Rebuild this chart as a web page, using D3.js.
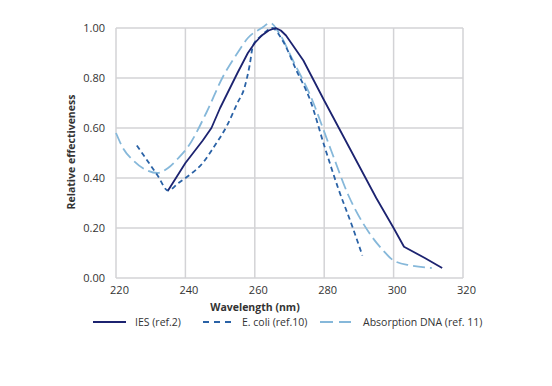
<!DOCTYPE html>
<html>
<head>
<meta charset="utf-8">
<script src="https://cdn.jsdelivr.net/npm/d3@7"></script>
<style>
  body { margin: 0; background: #fff; }
  text { font-family: "Open Sans", Lato, sans-serif; fill: #333; }
</style>
</head>
<body>
<div id="chart"></div>
<script>
var xTicks = [220, 240, 260, 280, 300, 320];
var yTicks = [0, 0.2, 0.4, 0.6, 0.8, 1.0];

// [wavelength nm, relative effectiveness]
var ies = [[235,0.35],[240,0.46],[245,0.55],[247.5,0.60],[250,0.68],[255,0.82],[258,0.90],
  [260,0.94],[262,0.97],[264,0.99],[266,1.00],[267.5,0.99],[269,0.97],[271,0.93],[274,0.87],
  [280,0.71],[285,0.58],[290,0.45],[295,0.32],[300,0.20],[303,0.125],[309,0.08],[314,0.04]];
var ecoli = [[226,0.53],[229,0.47],[232,0.41],[235,0.35],[238,0.38],[241,0.41],[245,0.46],
  [248,0.52],[252,0.61],[255,0.70],[257,0.76],[258.5,0.85],[259.5,0.93],[262,0.97],[265,1.00],
  [268,0.95],[272,0.83],[276,0.71],[280,0.53],[284,0.36],[288,0.21],[291,0.09]];
var dna = [[220,0.58],[222,0.52],[225,0.47],[229,0.43],[232,0.42],[235,0.44],[238,0.48],
  [241,0.53],[246,0.66],[251,0.81],[255,0.90],[258,0.96],[262,1.00],[264.5,1.02],[267,0.98],
  [271,0.87],[276,0.73],[282,0.51],[287,0.33],[293,0.18],[297,0.11],[300,0.07],[305,0.05],[311,0.04]];

var series = [
  {name: "IES (ref.2)", data: ies, colour: "#1c2370", dash: null, curve: d3.curveLinear},
  {name: "E. coli (ref.10)", data: ecoli, colour: "#2a62a6", dash: "5,3.5", curve: d3.curveMonotoneX},
  {name: "Absorption DNA (ref. 11)", data: dna, colour: "#86b8da", dash: "12,5", curve: d3.curveMonotoneX}
];

var w = 552, h = 386;
var svg = d3.select("#chart").append("svg")
  .attr("width", w)
  .attr("height", h);

var x = d3.scaleLinear().domain([220, 320]).range([116, 463]);
var y = d3.scaleLinear().domain([0, 1]).range([278, 28]);

// grid
svg.append("g")
  .selectAll("line")
  .data(xTicks)
  .enter().append("line")
    .attr("x1", function(d){ return x(d); })
    .attr("x2", function(d){ return x(d); })
    .attr("y1", y(0))
    .attr("y2", y(1))
    .style("stroke", "#d3d3d6")
    .style("stroke-width", 1.5);

svg.append("g")
  .selectAll("line")
  .data(yTicks)
  .enter().append("line")
    .attr("x1", x(220))
    .attr("x2", x(320))
    .attr("y1", function(d){ return y(d); })
    .attr("y2", function(d){ return y(d); })
    .style("stroke", "#d3d3d6")
    .style("stroke-width", 1.5);

// tick labels
var xAxis = svg.append("g")
  .attr("transform", "translate(3," + y(0) + ")")
  .call(d3.axisBottom(x).tickValues(xTicks).tickSize(0).tickPadding(8).tickFormat(d3.format("d")));
var yAxis = svg.append("g")
  .attr("transform", "translate(" + x(220) + ",0)")
  .call(d3.axisLeft(y).tickValues(yTicks).tickSize(0).tickPadding(11).tickFormat(d3.format(".2f")));
[xAxis, yAxis].forEach(function(a){
  a.select(".domain").remove();
  a.selectAll("text").style("font-size", "11px").style("fill", "#333");
});

// axis titles
svg.append("text")
  .attr("x", 255)
  .attr("y", 311)
  .attr("text-anchor", "middle")
  .style("font-size", "10.5px")
  .style("font-weight", "bold")
  .text("Wavelength (nm)");

svg.append("text")
  .attr("transform", "translate(75,152) rotate(-90)")
  .attr("text-anchor", "middle")
  .style("font-size", "10.5px")
  .style("font-weight", "bold")
  .text("Relative effectiveness");

// curves
series.slice().reverse().forEach(function(s){
  var line = d3.line()
    .x(function(d){ return x(d[0]); })
    .y(function(d){ return y(d[1]); })
    .curve(s.curve);
  svg.append("path")
    .datum(s.data)
    .attr("d", line)
    .style("fill", "none")
    .style("stroke", s.colour)
    .style("stroke-width", 1.8)
    .style("stroke-linejoin", "round")
    .style("stroke-dasharray", s.dash);
});

// legend
var legendX = [93, 203, 320];
var legend = svg.append("g")
  .selectAll("g")
  .data(series)
  .enter().append("g")
    .attr("transform", function(d, i){ return "translate(" + legendX[i] + ",322)"; });

legend.append("line")
  .attr("x1", 0)
  .attr("x2", function(d, i){ return i == 0 ? 33 : 31; })
  .style("stroke", function(d){ return d.colour; })
  .style("stroke-width", 1.8)
  .style("stroke-dasharray", function(d, i){ return i == 1 ? "6,5" : (i == 2 ? "13,6" : null); });

legend.append("text")
  .attr("x", function(d, i){ return i == 0 ? 42 : (i == 1 ? 39 : 43); })
  .attr("y", 4)
  .style("font-size", "10.5px")
  .text(function(d){ return d.name; });
</script>
</body>
</html>
